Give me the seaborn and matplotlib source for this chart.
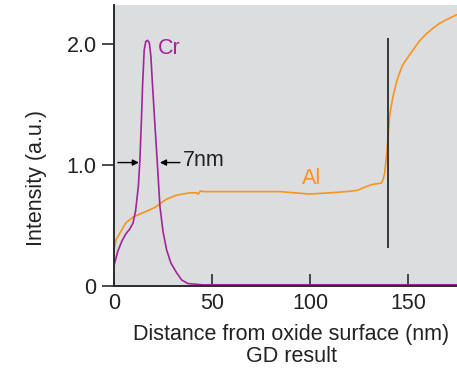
import matplotlib
matplotlib.use("Agg")
import matplotlib.pyplot as plt
import seaborn as sns
import pandas as pd

# ---- data ----
cr_x = [0, 2, 4, 6, 8, 9.7, 11, 12.4, 13.2, 14, 14.6, 15.4, 16.2, 17.1, 18, 18.8,
        19.6, 20.8, 22.0, 23.4, 25, 26.8, 29, 31.9, 34.5, 37.7, 45, 80, 120, 181]
cr_y = [0.17, 0.29, 0.37, 0.43, 0.47, 0.52, 0.62, 0.82, 1.04, 1.38, 1.67, 1.95,
        2.02, 2.03, 2.01, 1.90, 1.67, 1.35, 1.04, 0.66, 0.45, 0.30, 0.19, 0.11,
        0.05, 0.02, 0.01, 0.01, 0.01, 0.01]

al_x = [0, 1, 3.1, 6, 9.7, 14, 18.3, 21, 23.4, 27, 31.9, 35, 38.7, 42, 43, 44, 46,
        55, 65, 75, 84.5, 92, 99.8, 110, 118.5, 124, 126.9, 130, 132, 136.3, 137.2,
        138, 139.2, 140.5, 141.5, 142.3, 143.1, 144.3, 145.6, 147, 149, 152, 156,
        159, 162.6, 166, 169.4, 174.5, 181]
al_y = [0.30, 0.38, 0.44, 0.52, 0.57, 0.60, 0.63, 0.65, 0.68, 0.72, 0.75, 0.76,
        0.77, 0.77, 0.76, 0.785, 0.78, 0.78, 0.78, 0.78, 0.78, 0.77, 0.76, 0.77,
        0.78, 0.79, 0.81, 0.83, 0.84, 0.85, 0.88, 0.93, 1.12, 1.40, 1.50, 1.57,
        1.62, 1.70, 1.76, 1.82, 1.87, 1.94, 2.03, 2.08, 2.13, 2.17, 2.20, 2.24, 2.27]

y_ticks = [0, 1.0, 2.0]
y_tick_labels = ["0", "1.0", "2.0"]
x_ticks = [0, 50, 100, 150]
x_tick_labels = ["0", "50", "100", "150"]

interface_x = 139.9
interface_y = (0.31, 2.05)
fwhm_left = (2.0, 12.7)
fwhm_right = (33.6, 23.4)
fwhm_y = 1.02

CR_COLOR = "#a3239b"
AL_COLOR = "#f7941d"
DARK = "#2b2b2b"
FS = 15.5

sns.set_style("white", {"axes.facecolor": "#dcdddf"})
plt.rcParams["font.family"] = ["Liberation Sans", "DejaVu Sans"]

fig = plt.figure(figsize=(4.57, 3.73), dpi=100)
ax = fig.add_axes([114 / 457, 87 / 373, 355 / 457, 281 / 373])

cr_df = pd.DataFrame({"x": cr_x, "y": cr_y})
al_df = pd.DataFrame({"x": al_x, "y": al_y})
sns.lineplot(data=al_df, x="x", y="y", ax=ax, color=AL_COLOR, lw=1.2, sort=False)
sns.lineplot(data=cr_df, x="x", y="y", ax=ax, color=CR_COLOR, lw=1.2, sort=False)

ax.vlines(interface_x, interface_y[0], interface_y[1], color=DARK, lw=1.3)

ax.annotate("", xy=(fwhm_left[1], fwhm_y), xytext=(fwhm_left[0], fwhm_y),
            arrowprops=dict(arrowstyle="-|>", color="black", lw=1.0, mutation_scale=9,
                            shrinkA=0, shrinkB=0))
ax.annotate("", xy=(fwhm_right[1], fwhm_y), xytext=(fwhm_right[0], fwhm_y),
            arrowprops=dict(arrowstyle="-|>", color="black", lw=1.0, mutation_scale=9,
                            shrinkA=0, shrinkB=0))
ax.text(35.3, 1.035, "7nm", fontsize=FS, color="#222222", ha="left", va="center")
ax.text(22.4, 1.96, "Cr", fontsize=FS, color=CR_COLOR, ha="left", va="center")
ax.text(95.7, 0.885, "Al", fontsize=FS, color=AL_COLOR, ha="left", va="center")

ax.set_xlim(0, 181)
ax.set_ylim(0, 2.322)
ax.set_xticks(x_ticks)
ax.set_xticklabels(x_tick_labels)
ax.set_yticks(y_ticks)
ax.set_yticklabels(y_tick_labels)

for s in ["top", "right"]:
    ax.spines[s].set_visible(False)
for s in ["left", "bottom"]:
    ax.spines[s].set_color(DARK)
    ax.spines[s].set_linewidth(1.4)

ax.tick_params(axis="x", direction="in", length=8.6, width=1.2, color=DARK,
               labelsize=FS, pad=5, labelcolor="#222222")
ax.tick_params(axis="y", direction="out", length=8.6, width=1.2, color=DARK,
               labelsize=FS, pad=4, labelcolor="#222222")
ax.tick_params(axis="x", bottom=True)
ax.tick_params(axis="y", left=True)

ax.set_xlabel("Distance from oxide surface (nm)\nGD result", fontsize=FS,
              color="#222222", linespacing=1.1, labelpad=7)
ax.set_ylabel("Intensity (a.u.)", fontsize=FS, color="#222222")
ax.yaxis.set_label_coords(-0.19, 0.384)

fig.savefig("out.png", dpi=100)
